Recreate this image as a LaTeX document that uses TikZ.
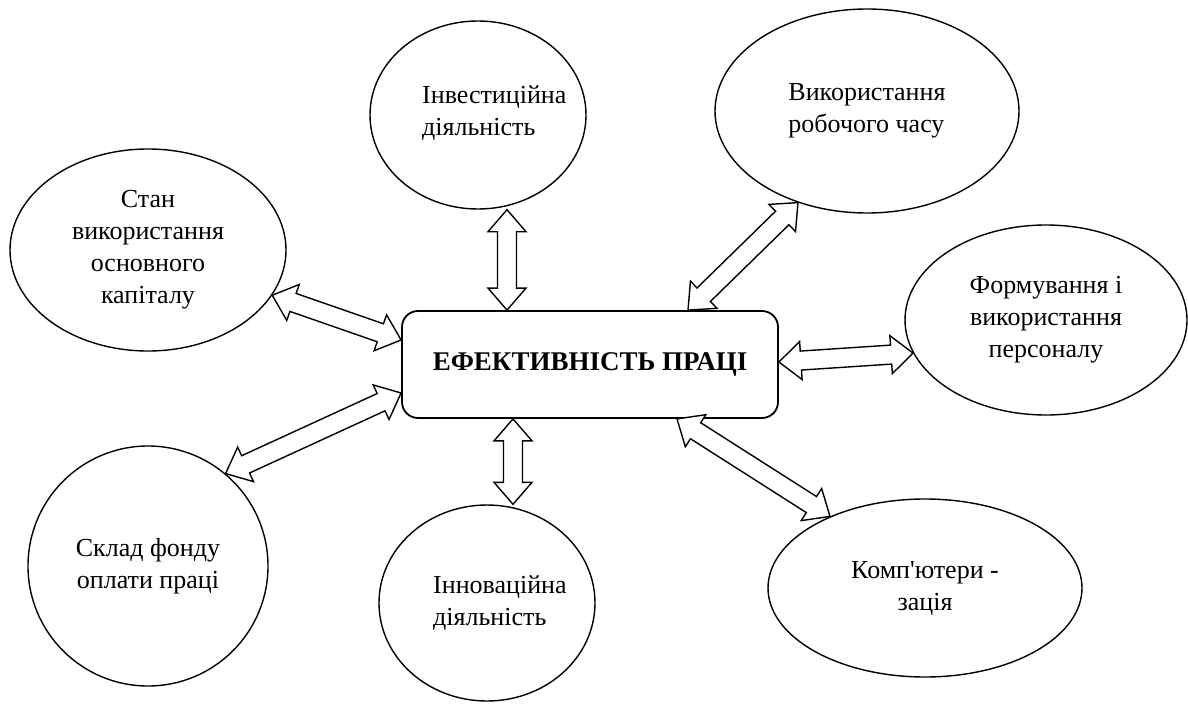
\documentclass[tikz,border=0pt]{standalone}
\usepackage{fontspec}
\setmainfont{Liberation Serif}[Ligatures=TeXOff]
\usetikzlibrary{calc, shapes.geometric}

% hollow two-headed block arrow between two points
\newcommand\dblarrow[2]{%
  \draw[blockarrow] let \p1=(#1), \p2=(#2),
    \n1={atan2(\y2-\y1,\x2-\x1)}, \n2={veclen(\x2-\x1,\y2-\y1)} in
    [shift={(\p1)}, rotate=\n1]
    (0pt,0pt) -- (22pt,19pt) -- (22pt,9.5pt) -- ({\n2-22pt},9.5pt) -- ({\n2-22pt},19pt)
    -- ({\n2+0pt},0pt) -- ({\n2-22pt},-19pt) -- ({\n2-22pt},-9.5pt) -- (22pt,-9.5pt)
    -- (22pt,-19pt) -- cycle;}

\begin{document}
\begin{tikzpicture}[x=1pt,y=-1pt,
  oval/.style={draw, ellipse, line width=1.4pt, inner sep=0pt, align=center,
    font=\fontsize{26}{32}\selectfont},
  ovaltext/.style={anchor=west, inner sep=0pt, align=left,
    font=\fontsize{26}{32}\selectfont},
  mainbox/.style={draw, rounded corners=16pt, line width=1.8pt, minimum width=376pt,
    minimum height=107pt, font=\fontsize{27}{32}\selectfont\bfseries},
  blockarrow/.style={draw, fill=white, line width=1.4pt, line join=miter}]
  \useasboundingbox (0,0) rectangle (1188,706);

  \node[mainbox] (eff) at (590,364.5) {ЕФЕКТИВНІСТЬ ПРАЦІ};

  \node[oval, minimum width=216pt, minimum height=188pt] (inv) at (478,115) {};
  \node[ovaltext] (invtext) at ([xshift=-56pt,yshift=2pt]inv.center)
    {Інвестиційна\\діяльність};
  \node[oval, minimum width=304pt, minimum height=204pt, align=left] (work) at (867,111)
    {Використання\\робочого часу};
  \node[oval, minimum width=276pt, minimum height=202pt] (cap) at (148,250)
    {Стан\\використання\\основного\\капіталу};
  \node[oval, minimum width=282pt, minimum height=190pt] (pers) at (1046,320)
    {Формування і\\використання\\персоналу};
  \node[oval, minimum width=240pt, minimum height=240pt] (fund) at (148,566)
    {Склад фонду\\оплати праці};
  \node[oval, minimum width=216pt, minimum height=196pt] (innov) at (487,603) {};
  \node[ovaltext] (innovtext) at ([xshift=-54pt]innov.center)
    {Інноваційна\\діяльність};
  \node[oval, minimum width=314pt, minimum height=178pt] (comp) at (925,588)
    {Комп'ютери -\\зація};

  % ends on the box
  \coordinate (top1) at ([xshift=-83pt]eff.north);
  \coordinate (top2) at ([xshift=98pt]eff.north);
  \coordinate (left1) at ([yshift=24.5pt]eff.west);
  \coordinate (left2) at ([yshift=-28.5pt]eff.west);
  \coordinate (right1) at ([yshift=2.5pt]eff.east);
  \coordinate (bot1) at ([xshift=-77pt]eff.south);
  \coordinate (bot2) at ([xshift=87pt]eff.south);

  \dblarrow{top1}{top1 |- inv.south}
  \dblarrow{top2}{work.-127}
  \dblarrow{left1}{cap.-20}
  \dblarrow{left2}{fund.50}
  \dblarrow{right1}{pers.194}
  \dblarrow{bot1}{bot1 |- innov.north}
  \dblarrow{bot2}{comp.143}

\end{tikzpicture}
\end{document}
